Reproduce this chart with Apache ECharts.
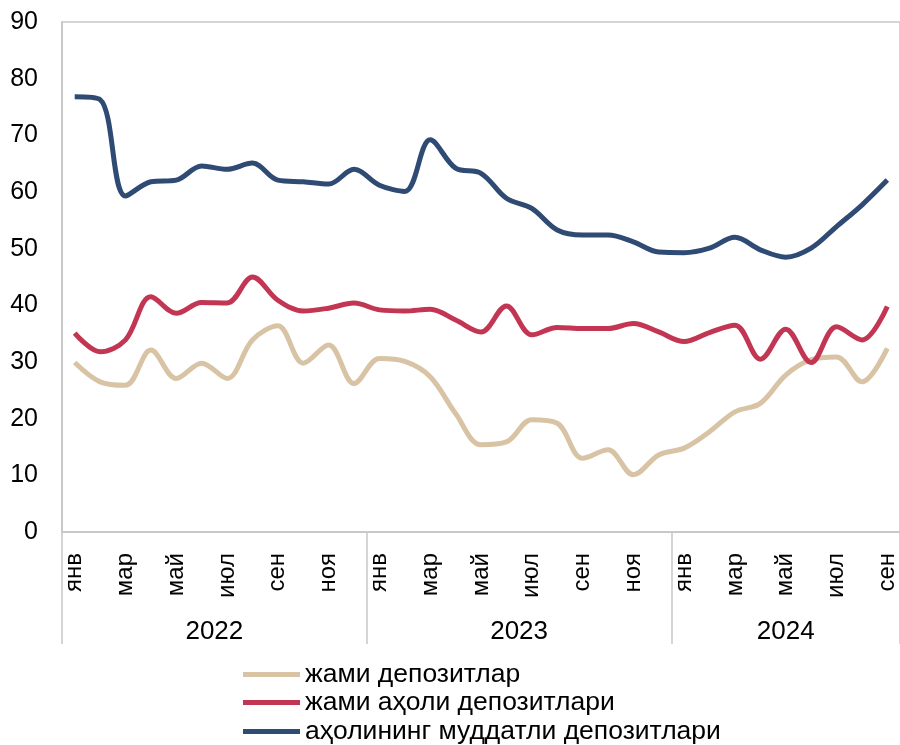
<!DOCTYPE html>
<html>
<head>
<meta charset="utf-8">
<script src="https://cdn.jsdelivr.net/npm/echarts@6/dist/echarts.min.js"></script>
<style>
  html, body { margin: 0; padding: 0; background: #fff; }
  #chart { width: 900px; height: 745px; }
</style>
</head>
<body>
<div id="chart"></div>
<script>
const monthNames = ['янв', 'фев', 'мар', 'апр', 'май', 'июн', 'июл', 'авг', 'сен', 'окт', 'ноя', 'дек'];
const years = ['2022', '2023', '2024'];
const yearCenters = [5.5, 17.5, 28];
const yearBounds = [-0.5, 11.5, 23.5, 32.5];

// Jan 2022 .. Sep 2024
const months = [];
for (let i = 0; i < 33; i++) months.push(monthNames[i % 12]);

const totalDeposits = [
  29.9, 26.5, 25.9, 32.1, 27.1, 29.8, 27.1, 33.9, 36.4, 29.8, 33.0, 26.2,
  30.6, 30.1, 27.4, 20.9, 15.4, 15.9, 19.8, 19.2, 13.0, 14.5, 10.1, 13.6,
  14.8, 17.7, 21.2, 22.7, 27.7, 30.4, 30.9, 26.5, 32.4
];
const householdDeposits = [
  35.1, 31.8, 33.9, 41.5, 38.6, 40.5, 40.4, 45.0, 40.9, 39.0, 39.5, 40.4,
  39.2, 39.0, 39.3, 37.4, 35.3, 39.9, 34.8, 36.1, 35.9, 35.9, 36.8, 35.3,
  33.6, 35.2, 36.5, 30.5, 35.8, 29.9, 36.2, 33.9, 39.8
];
const termDeposits = [
  76.8, 76.3, 59.3, 61.8, 62.1, 64.6, 64.0, 65.1, 62.1, 61.8, 61.4, 64.0,
  61.2, 60.1, 69.2, 64.2, 63.3, 58.9, 57.1, 53.3, 52.4, 52.4, 51.2, 49.4,
  49.3, 50.1, 52.0, 49.8, 48.5, 50.1, 53.9, 57.7, 62.1
];

const seriesNames = ['жами депозитлар', 'жами аҳоли депозитлари', 'аҳолининг муддатли депозитлари'];
const colors = ['#d8c3a5', '#c23654', '#2f4b73'];

const font = 'Liberation Sans, Arial, sans-serif';
const chart = echarts.init(document.getElementById('chart'));

const mkLine = (name, data, color) => ({
  name: name,
  type: 'line',
  data: data,
  xAxisIndex: 0,
  smooth: 0.35,
  symbol: 'none',
  lineStyle: { width: 5, color: color },
  itemStyle: { color: color },
  z: 3
});

// one legend per row, stacked
const mkLegend = (name, top) => ({
  left: 238,
  top: top,
  icon: 'rect',
  itemWidth: 57,
  itemHeight: 5,
  textStyle: { fontFamily: font, fontSize: 26.5, color: '#000' },
  data: [name]
});

chart.setOption({
  animation: false,
  color: colors,
  grid: {
    left: 62,
    top: 22,
    width: 844,
    bottom: 213,
    show: true,
    borderColor: '#c8c8c8',
    borderWidth: 1.5
  },
  legend: [
    mkLegend(seriesNames[0], 656),
    mkLegend(seriesNames[1], 684),
    mkLegend(seriesNames[2], 713)
  ],
  xAxis: [
    {
      type: 'category',
      data: months,
      boundaryGap: true,
      axisLine: { lineStyle: { color: '#c8c8c8', width: 2 } },
      axisTick: { show: false },
      axisLabel: {
        interval: 1,
        rotate: 90,
        margin: 21,
        color: '#000',
        fontFamily: font,
        fontSize: 24
      },
      splitLine: { show: false }
    },
    {
      type: 'value',
      position: 'bottom',
      min: -0.5,
      max: 32.5,
      axisLine: { show: false },
      axisTick: {
        show: true,
        customValues: yearBounds,
        length: 112,
        lineStyle: { color: '#c8c8c8', width: 1.5 }
      },
      axisLabel: {
        customValues: yearCenters,
        margin: 87,
        color: '#000',
        fontFamily: font,
        fontSize: 26,
        formatter: (v) => years[yearCenters.indexOf(v)]
      },
      splitLine: { show: false }
    }
  ],
  yAxis: {
    type: 'value',
    min: 0,
    max: 90,
    interval: 10,
    axisLine: { show: true, onZero: false, lineStyle: { color: '#c8c8c8', width: 2 } },
    axisTick: { show: false },
    splitLine: { show: false },
    axisLabel: {
      margin: 24,
      color: '#000',
      fontFamily: font,
      fontSize: 25
    }
  },
  series: [
    mkLine(seriesNames[0], totalDeposits, colors[0]),
    mkLine(seriesNames[1], householdDeposits, colors[1]),
    mkLine(seriesNames[2], termDeposits, colors[2])
  ]
});
</script>
</body>
</html>
